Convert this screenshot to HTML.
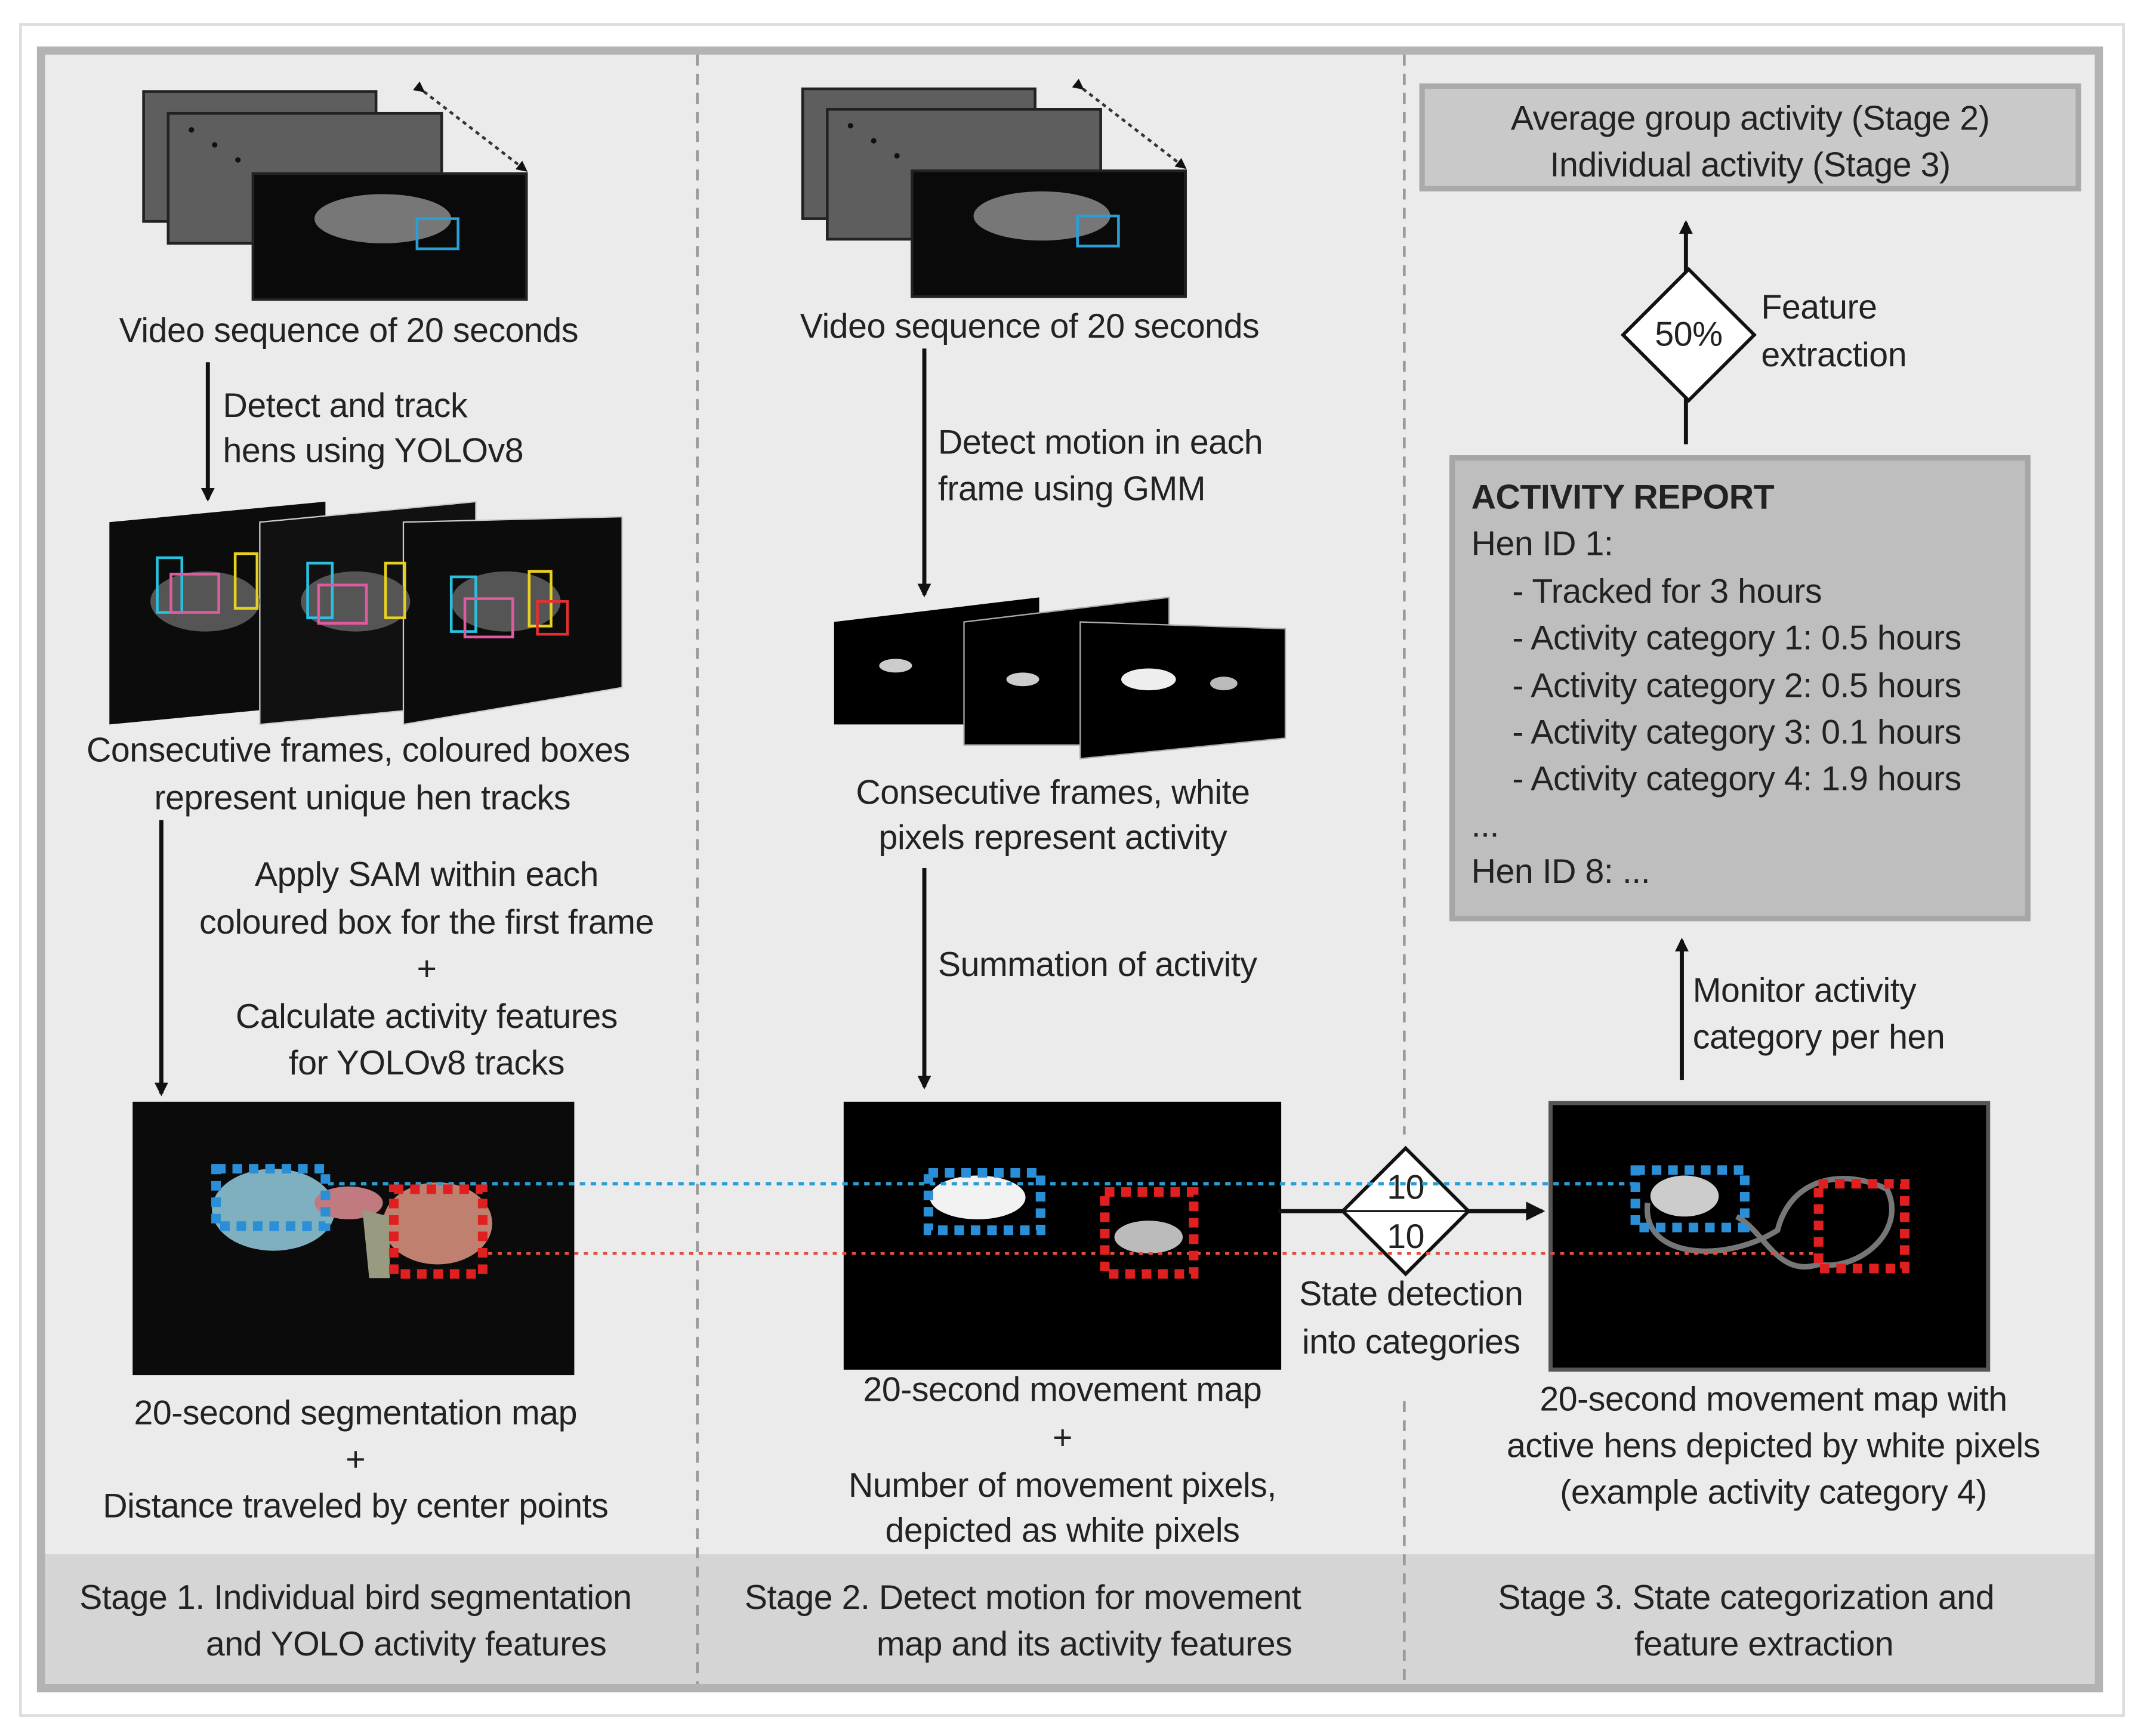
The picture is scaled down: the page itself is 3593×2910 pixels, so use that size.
<!DOCTYPE html>
<html><head><meta charset="utf-8"><style>
html,body{margin:0;padding:0;background:#fff}
svg{display:block}
text{font-family:"Liberation Sans",sans-serif;font-size:25px;fill:#222;letter-spacing:-0.2px}
</style></head><body>
<svg width="3593" height="2910" viewBox="0 0 1568 1270" preserveAspectRatio="none" xmlns="http://www.w3.org/2000/svg">
<defs>
<marker id="ah" markerWidth="10" markerHeight="10" refX="8" refY="5" orient="auto" markerUnits="userSpaceOnUse"><path d="M0,0 L10,5 L0,10 z" fill="#111"/></marker>
<marker id="ah2" markerWidth="14" markerHeight="14" refX="12" refY="7" orient="auto" markerUnits="userSpaceOnUse"><path d="M0,0 L14,7 L0,14 z" fill="#111"/></marker>
<marker id="ah3" markerWidth="8" markerHeight="8" refX="7" refY="4" orient="auto" markerUnits="userSpaceOnUse"><path d="M0,0 L8,4 L0,8 z" fill="#111"/></marker>
</defs>
<rect x="0" y="0" width="1568" height="1270" fill="#fff"/>
<rect x="15" y="18" width="1538" height="1237" fill="none" stroke="#ddd" stroke-width="2"/>
<rect x="30" y="37" width="1505" height="1198" fill="#ebebeb" stroke="#b3b3b3" stroke-width="6"/>
<rect x="33" y="1137" width="1499" height="95" fill="#d5d5d5"/>
<line x1="510" y1="40" x2="510" y2="1232" stroke="#999" stroke-width="2" stroke-dasharray="8,6"/>
<line x1="1027" y1="40" x2="1027" y2="830" stroke="#999" stroke-width="2" stroke-dasharray="8,6"/>
<line x1="1027" y1="1025" x2="1027" y2="1232" stroke="#999" stroke-width="2" stroke-dasharray="8,6"/>

<!-- Stage 1 frames -->
<rect x="105" y="67" width="170" height="95" fill="#5e5e5e" stroke="#222" stroke-width="2"/>
<rect x="123" y="83" width="200" height="95" fill="#5e5e5e" stroke="#222" stroke-width="2"/>
<circle cx="140" cy="95" r="2" fill="#111"/><circle cx="157" cy="106" r="2" fill="#111"/><circle cx="174" cy="117" r="2" fill="#111"/>
<rect x="185" y="127" width="200" height="92" fill="#0a0a0a" stroke="#222" stroke-width="2"/>
<ellipse cx="280" cy="160" rx="50" ry="18" fill="#777"/>
<rect x="305" y="160" width="30" height="22" fill="none" stroke="#2a9fd6" stroke-width="2"/>
<line x1="310" y1="67" x2="385" y2="125" stroke="#333" stroke-width="2" stroke-dasharray="3,3" marker-end="url(#ah3)" marker-start="url(#ah3)"/>
<text x="255" y="250" text-anchor="middle">Video sequence of 20 seconds</text>
<line x1="152" y1="265" x2="152" y2="365" stroke="#111" stroke-width="3" marker-end="url(#ah)"/>
<text x="163" y="305">Detect and track</text>
<text x="163" y="338">hens using YOLOv8</text>
<polygon points="80,382 238,367 238,515 80,530" fill="#0c0c0c"/>
<polygon points="190,382 348,367 348,515 190,530" fill="#111" stroke="#ccc" stroke-width="1"/>
<polygon points="295,382 455,378 455,503 295,530" fill="#0c0c0c" stroke="#ccc" stroke-width="1"/>
<ellipse cx="150" cy="440" rx="40" ry="22" fill="#555"/><ellipse cx="260" cy="440" rx="40" ry="22" fill="#555"/><ellipse cx="370" cy="440" rx="40" ry="22" fill="#555"/>
<g fill="none" stroke-width="2">
<rect x="115" y="408" width="18" height="40" stroke="#2ac0e0"/><rect x="125" y="420" width="35" height="28" stroke="#e05aa0"/><rect x="172" y="405" width="16" height="40" stroke="#e8d020"/>
<rect x="225" y="412" width="18" height="40" stroke="#2ac0e0"/><rect x="233" y="428" width="35" height="28" stroke="#e05aa0"/><rect x="282" y="412" width="14" height="40" stroke="#e8d020"/>
<rect x="330" y="422" width="18" height="40" stroke="#2ac0e0"/><rect x="340" y="438" width="35" height="28" stroke="#e05aa0"/><rect x="387" y="418" width="16" height="40" stroke="#e8d020"/><rect x="393" y="440" width="22" height="24" stroke="#e03030"/>
</g>
<text x="262" y="557" text-anchor="middle">Consecutive frames, coloured boxes</text>
<text x="265" y="592" text-anchor="middle">represent unique hen tracks</text>
<line x1="118" y1="600" x2="118" y2="800" stroke="#111" stroke-width="3" marker-end="url(#ah)"/>
<text x="312" y="648" text-anchor="middle">Apply SAM within each</text>
<text x="312" y="683" text-anchor="middle">coloured box for the first frame</text>
<text x="312" y="717" text-anchor="middle">+</text>
<text x="312" y="752" text-anchor="middle">Calculate activity features</text>
<text x="312" y="786" text-anchor="middle">for YOLOv8 tracks</text>
<rect x="97" y="806" width="323" height="200" fill="#0b0b0b"/>
<ellipse cx="200" cy="885" rx="45" ry="30" fill="#7fb0c0"/>
<ellipse cx="320" cy="895" rx="40" ry="30" fill="#c08070"/>
<ellipse cx="255" cy="880" rx="25" ry="12" fill="#c07a80"/>
<path d="M265,885 L285,890 L285,935 L270,935 z" fill="#9a9a80"/>

<text x="260" y="1042" text-anchor="middle">20-second segmentation map</text>
<text x="260" y="1076" text-anchor="middle">+</text>
<text x="260" y="1110" text-anchor="middle">Distance traveled by center points</text>
<text x="260" y="1177" text-anchor="middle">Stage 1. Individual bird segmentation</text>
<text x="297" y="1211" text-anchor="middle">and YOLO activity features</text>

<!-- Stage 2 -->
<rect x="587" y="65" width="170" height="95" fill="#5e5e5e" stroke="#222" stroke-width="2"/>
<rect x="605" y="80" width="200" height="95" fill="#5e5e5e" stroke="#222" stroke-width="2"/>
<circle cx="622" cy="92" r="2" fill="#111"/><circle cx="639" cy="103" r="2" fill="#111"/><circle cx="656" cy="114" r="2" fill="#111"/>
<rect x="667" y="125" width="200" height="92" fill="#0a0a0a" stroke="#222" stroke-width="2"/>
<ellipse cx="762" cy="158" rx="50" ry="18" fill="#777"/>
<rect x="788" y="158" width="30" height="22" fill="none" stroke="#2a9fd6" stroke-width="2"/>
<line x1="792" y1="65" x2="867" y2="123" stroke="#333" stroke-width="2" stroke-dasharray="3,3" marker-end="url(#ah3)" marker-start="url(#ah3)"/>
<text x="753" y="247" text-anchor="middle">Video sequence of 20 seconds</text>
<line x1="676" y1="255" x2="676" y2="435" stroke="#111" stroke-width="3" marker-end="url(#ah)"/>
<text x="686" y="332">Detect motion in each</text>
<text x="686" y="366">frame using GMM</text>
<polygon points="610,455 760,437 760,530 610,530" fill="#000"/>
<polygon points="705,455 855,437 855,545 705,545" fill="#000" stroke="#aaa" stroke-width="1"/>
<polygon points="790,455 940,460 940,540 790,555" fill="#000" stroke="#aaa" stroke-width="1"/>
<ellipse cx="655" cy="487" rx="12" ry="5" fill="#ccc"/><ellipse cx="748" cy="497" rx="12" ry="5" fill="#ccc"/><ellipse cx="840" cy="497" rx="20" ry="8" fill="#eee"/><ellipse cx="895" cy="500" rx="10" ry="5" fill="#bbb"/>
<text x="770" y="588" text-anchor="middle">Consecutive frames, white</text>
<text x="770" y="621" text-anchor="middle">pixels represent activity</text>
<line x1="676" y1="635" x2="676" y2="795" stroke="#111" stroke-width="3" marker-end="url(#ah)"/>
<text x="686" y="714">Summation of activity</text>
<rect x="617" y="806" width="320" height="196" fill="#000"/>
<ellipse cx="715" cy="876" rx="35" ry="16" fill="#f2f2f2"/>
<ellipse cx="840" cy="905" rx="25" ry="12" fill="#bbb"/>

<text x="777" y="1025" text-anchor="middle">20-second movement map</text>
<text x="777" y="1060" text-anchor="middle">+</text>
<text x="777" y="1095" text-anchor="middle">Number of movement pixels,</text>
<text x="777" y="1128" text-anchor="middle">depicted as white pixels</text>
<text x="748" y="1177" text-anchor="middle">Stage 2. Detect motion for movement</text>
<text x="793" y="1211" text-anchor="middle">map and its activity features</text>

<!-- Stage 3 -->
<rect x="1040" y="63" width="480" height="75" fill="#c9c9c9" stroke="#aaa" stroke-width="4"/>
<text x="1280" y="95" text-anchor="middle">Average group activity (Stage 2)</text>
<text x="1280" y="129" text-anchor="middle">Individual activity (Stage 3)</text>
<line x1="1233" y1="325" x2="1233" y2="163" stroke="#111" stroke-width="3" marker-end="url(#ah)"/>
<polygon points="1235,197 1283,245 1235,293 1187,245" fill="#fff" stroke="#111" stroke-width="2.5"/>
<text x="1235" y="253" text-anchor="middle">50%</text>
<text x="1288" y="233">Feature</text>
<text x="1288" y="268">extraction</text>
<rect x="1062" y="335" width="421" height="337" fill="#bebebe" stroke="#a6a6a6" stroke-width="4"/>
<text x="1076" y="372" font-weight="bold">ACTIVITY REPORT</text>
<text x="1076" y="406">Hen ID 1:</text>
<text x="1106" y="441">- Tracked for 3 hours</text>
<text x="1106" y="475">- Activity category 1: 0.5 hours</text>
<text x="1106" y="510">- Activity category 2: 0.5 hours</text>
<text x="1106" y="544">- Activity category 3: 0.1 hours</text>
<text x="1106" y="578">- Activity category 4: 1.9 hours</text>
<text x="1076" y="612">...</text>
<text x="1076" y="646">Hen ID 8: ...</text>
<line x1="1230" y1="790" x2="1230" y2="688" stroke="#111" stroke-width="3" marker-end="url(#ah)"/>
<text x="1238" y="733">Monitor activity</text>
<text x="1238" y="767">category per hen</text>
<rect x="1134" y="807" width="320" height="195" fill="#000" stroke="#555" stroke-width="3"/>
<ellipse cx="1232" cy="875" rx="25" ry="15" fill="#ccc"/>
<path d="M1205,880 C1200,920 1260,925 1300,900 C1310,860 1350,855 1380,870 C1395,900 1360,930 1330,925 C1300,935 1290,900 1270,890" fill="none" stroke="#777" stroke-width="4"/>
<polygon points="1028,840 1074,886 1028,932 982,886" fill="#fff" stroke="#111" stroke-width="2.5"/>
<line x1="982" y1="886" x2="1074" y2="886" stroke="#111" stroke-width="1.5"/>
<text x="1028" y="877" text-anchor="middle">10</text>
<text x="1028" y="913" text-anchor="middle">10</text>
<line x1="935" y1="886" x2="982" y2="886" stroke="#111" stroke-width="3"/>
<line x1="1074" y1="886" x2="1128" y2="886" stroke="#111" stroke-width="3" marker-end="url(#ah2)"/>
<text x="1032" y="955" text-anchor="middle">State detection</text>
<text x="1032" y="990" text-anchor="middle">into categories</text>
<text x="1297" y="1032" text-anchor="middle">20-second movement map with</text>
<text x="1297" y="1066" text-anchor="middle">active hens depicted by white pixels</text>
<text x="1297" y="1100" text-anchor="middle">(example activity category 4)</text>
<text x="1277" y="1177" text-anchor="middle">Stage 3. State categorization and</text>
<text x="1290" y="1211" text-anchor="middle">feature extraction</text>

<!-- tracking dotted lines -->
<line x1="240" y1="866" x2="1200" y2="866" stroke="#2a9fd6" stroke-width="2.5" stroke-dasharray="4,4"/>
<line x1="350" y1="917" x2="1330" y2="917" stroke="#e05040" stroke-width="2" stroke-dasharray="3,4"/>
<g fill="none" stroke-width="7" stroke-dasharray="7,5">
<rect x="158" y="855" width="80" height="42" stroke="#2a8fd6"/>
<rect x="288" y="870" width="65" height="62" stroke="#e02020"/>
<rect x="679" y="858" width="82" height="42" stroke="#2a8fd6"/>
<rect x="808" y="872" width="65" height="60" stroke="#e02020"/>
<rect x="1196" y="856" width="80" height="42" stroke="#2a8fd6"/>
<rect x="1330" y="866" width="63" height="62" stroke="#e02020"/>
</g>
</svg>
</body></html>
